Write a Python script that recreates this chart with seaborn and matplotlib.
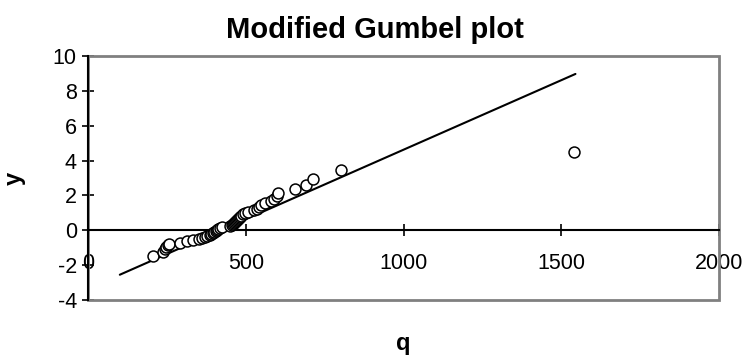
import matplotlib
matplotlib.use("Agg")
import matplotlib.pyplot as plt
import seaborn as sns
import pandas as pd
from matplotlib.patches import Rectangle

# Observed annual maxima q and their reduced Gumbel variates y
q_obs = [205, 236, 242, 248, 252, 255, 290, 312, 332, 352,
         362, 370, 378, 385, 390, 395, 400, 404, 408, 412,
         418, 425, 450, 455, 458, 462, 465, 468, 472, 475,
         478, 482, 485, 490, 498, 508, 525, 535, 542, 548,
         560, 580, 590, 600, 602, 654, 692, 713, 800, 1541]
y_obs = [-1.50, -1.24, -1.09, -0.97, -0.87, -0.79, -0.71, -0.64, -0.57, -0.50,
         -0.44, -0.38, -0.32, -0.27, -0.21, -0.16, -0.10, -0.05, 0.01, 0.06,
         0.12, 0.17, 0.23, 0.28, 0.34, 0.40, 0.45, 0.51, 0.58, 0.64,
         0.70, 0.77, 0.84, 0.91, 0.99, 1.07, 1.15, 1.24, 1.34, 1.44,
         1.55, 1.67, 1.81, 1.96, 2.14, 2.35, 2.61, 2.95, 3.45, 4.48]

# Fitted straight line (end points)
q_fit = [100, 1545]
y_fit = [-2.55, 8.97]

x_ticks = [0, 500, 1000, 1500, 2000]
y_ticks = [-4, -2, 0, 2, 4, 6, 8, 10]

sns.set_style("white")
plt.rcParams["font.family"] = ["Liberation Sans", "DejaVu Sans"]
plt.rcParams["text.color"] = "black"
plt.rcParams["xtick.color"] = "black"
plt.rcParams["ytick.color"] = "black"

obs = pd.DataFrame({"q": q_obs, "y": y_obs})
fit = pd.DataFrame({"q": q_fit, "y": y_fit})

fig = plt.figure(figsize=(7.45, 3.56), dpi=100)
ax = fig.add_axes([0.1185, 0.1573, 0.8465, 0.6854])

sns.lineplot(data=fit, x="q", y="y", ax=ax, color="black", linewidth=1.5,
             zorder=3)
sns.scatterplot(data=obs, x="q", y="y", ax=ax, s=62, marker="o",
                facecolor="white", edgecolor="black", linewidth=1.1,
                zorder=4)

ax.set_xlim(0, 2000)
ax.set_ylim(-4, 10)
ax.set_xticks(x_ticks)
ax.set_yticks(y_ticks)
ax.set_xticklabels([str(v) for v in x_ticks])
ax.set_yticklabels([str(v) for v in y_ticks])

# Plot-area frame in grey, horizontal axis through y = 0
ax.add_patch(Rectangle((0, 0), 1, 1, transform=ax.transAxes, fill=False,
                       edgecolor="#808080", linewidth=2.0, zorder=1,
                       clip_on=False))
for side in ("top", "right"):
    ax.spines[side].set_visible(False)
ax.spines["bottom"].set_position(("data", 0))
ax.spines["bottom"].set_color("black")
ax.spines["bottom"].set_linewidth(1.5)
ax.spines["left"].set_color("black")
ax.spines["left"].set_linewidth(1.5)
ax.spines["bottom"].set_zorder(2)
ax.spines["left"].set_zorder(2)

ax.tick_params(axis="x", bottom=True, direction="inout", length=8, width=1.2,
               labelsize=15.5, pad=12, colors="black")
ax.tick_params(axis="y", left=True, direction="inout", length=8.5, width=1.2,
               labelsize=15.5, pad=4, colors="black")

ax.set_xlabel("")
ax.set_ylabel("")
fig.text(0.503, 0.915, "Modified Gumbel plot", ha="center", va="center",
         fontsize=21, fontweight="bold", color="black")
fig.text(0.019, 0.5, "y", ha="center", va="center", rotation=90,
         fontsize=17, fontweight="bold", color="black")
fig.text(0.541, 0.035, "q", ha="center", va="center",
         fontsize=17, fontweight="bold", color="black")

fig.savefig("out.png", dpi=100)
